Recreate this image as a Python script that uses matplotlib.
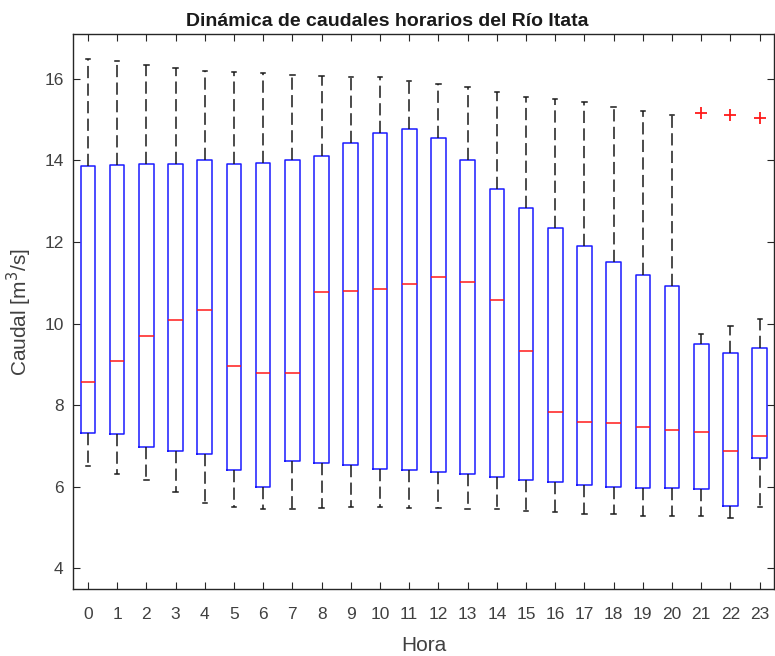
import matplotlib
matplotlib.use("Agg")
import matplotlib.pyplot as plt

plt.rcParams['font.family'] = ['Liberation Sans', 'DejaVu Sans']

horas = list(range(24))
whislo = [6.51, 6.31, 6.16, 5.86, 5.59, 5.50, 5.46, 5.46, 5.47, 5.50, 5.50, 5.47,
          5.47, 5.46, 5.45, 5.41, 5.37, 5.33, 5.33, 5.29, 5.28, 5.29, 5.24, 5.51]
q1 = [7.31, 7.29, 6.97, 6.88, 6.80, 6.41, 5.99, 6.62, 6.59, 6.52, 6.44, 6.40,
      6.36, 6.31, 6.24, 6.16, 6.11, 6.03, 5.98, 5.96, 5.96, 5.93, 5.53, 6.71]
medianas = [8.56, 9.09, 9.70, 10.09, 10.34, 8.97, 8.79, 8.79, 10.77, 10.80, 10.84, 10.98,
            11.13, 11.03, 10.57, 9.33, 7.84, 7.58, 7.56, 7.47, 7.39, 7.34, 6.88, 7.25]
q3 = [13.86, 13.89, 13.91, 13.92, 14.00, 13.91, 13.94, 14.02, 14.10, 14.44, 14.68, 14.77,
      14.55, 14.02, 13.30, 12.83, 12.34, 11.90, 11.51, 11.20, 10.93, 9.49, 9.28, 9.40]
whishi = [16.49, 16.45, 16.35, 16.27, 16.20, 16.16, 16.15, 16.09, 16.07, 16.05, 16.05, 15.96,
          15.88, 15.80, 15.68, 15.55, 15.52, 15.44, 15.31, 15.22, 15.12, 9.75, 9.95, 10.11]
outliers = [[], [], [], [], [], [], [], [], [], [], [], [],
            [], [], [], [], [], [], [], [], [], [15.17], [15.11], [15.04]]

stats = []
for i in range(len(horas)):
    stats.append(dict(whislo=whislo[i], q1=q1[i], med=medianas[i], q3=q3[i],
                      whishi=whishi[i], fliers=outliers[i]))

fig = plt.figure(figsize=(7.75, 6.56), dpi=100)
ax = fig.add_axes([0.0946, 0.1017, 0.9045, 0.8463])

ax.bxp(stats, positions=horas, widths=0.5, capwidths=0.15,
       boxprops=dict(color='#1a1aff', linewidth=1.1),
       medianprops=dict(color='#ff1a1a', linewidth=1.1),
       whiskerprops=dict(color='#1a1a1a', linewidth=1.1, linestyle=(0, (8, 3.5))),
       capprops=dict(color='#1a1a1a', linewidth=1.1),
       flierprops=dict(marker='+', markeredgecolor='#ff1a1a', markersize=9,
                       markeredgewidth=1.3, linestyle='none'),
       manage_ticks=False)

ax.set_xlim(-0.5, 23.5)
ax.set_ylim(3.48, 17.1)
ax.set_xticks(horas)
ax.set_xticklabels([str(h) for h in horas])
ax.set_yticks([4, 6, 8, 10, 12, 14, 16])

gray = '#262626'
labgray = '#404040'
for s in ax.spines.values():
    s.set_color(gray)
    s.set_linewidth(1.0)
ax.tick_params(direction='in', length=5, width=0.8, colors=gray, labelsize=12.5,
               top=True, right=True, labelcolor=labgray)
ax.tick_params(axis='x', pad=13)
ax.tick_params(axis='y', pad=7)

ax.set_title('Dinámica de caudales horarios del Río Itata', fontsize=14,
             fontweight='bold', color='#1a1a1a', pad=6, x=0.4475)
ax.set_xlabel('Hora', fontsize=15, color=labgray, labelpad=10)
ax.set_ylabel('Caudal [m$^3$/s]', fontsize=15, color=labgray, labelpad=7)

fig.savefig('out.png', dpi=100)
